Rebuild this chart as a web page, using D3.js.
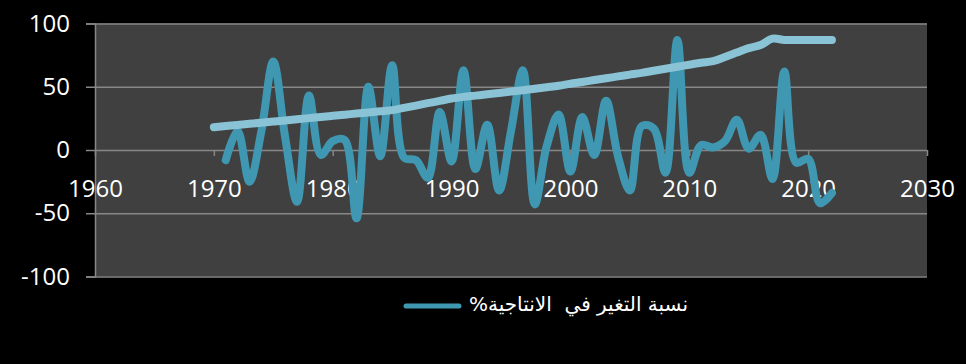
<!DOCTYPE html>
<html>
<head>
<meta charset="utf-8">
<script src="https://cdn.jsdelivr.net/npm/d3@7/dist/d3.min.js"></script>
<style>
  html, body { margin: 0; padding: 0; background: #000; }
  svg { display: block; }
  .tick text { font-family: "Segoe UI", "Open Sans", sans-serif; }
</style>
</head>
<body>
<svg id="chart" width="966" height="364"></svg>
<script>
// Annual percentage change in productivity
const years = [1971, 1972, 1973, 1974, 1975, 1976, 1977, 1978, 1979, 1980,
  1981, 1982, 1983, 1984, 1985, 1986, 1987, 1988, 1989, 1990,
  1991, 1992, 1993, 1994, 1995, 1996, 1997, 1998, 1999, 2000,
  2001, 2002, 2003, 2004, 2005, 2006, 2007, 2008, 2009, 2010,
  2011, 2012, 2013, 2014, 2015, 2016, 2017, 2018, 2019, 2020,
  2021, 2022];
const changePct = [-8, 15, -25, 15, 70, 10, -41, 43, -4, 7,
  8, -54, 50, -5, 67, -6, -8, -22, 30, -9,
  63, -15, 20, -32, 15, 63, -43, 3, 28, -17,
  26, -4, 39, -5, -32, 19, 17, -18, 87, -18,
  4, 2, 7, 24, 1, 12, -23, 62, -10, -7,
  -42, -34];

// Cumulative productivity index
const trendYears = [1970, 1971, 1972, 1973, 1974, 1975, 1976, 1977, 1978, 1979,
  1980, 1981, 1982, 1983, 1984, 1985, 1986, 1987, 1988, 1989,
  1990, 1991, 1992, 1993, 1994, 1995, 1996, 1997, 1998, 1999,
  2000, 2001, 2002, 2003, 2004, 2005, 2006, 2007, 2008, 2009,
  2010, 2011, 2012, 2013, 2014, 2015, 2016, 2017, 2018, 2019,
  2020, 2021, 2022];
const trendValues = [18, 18.9, 19.8, 20.7, 21.6, 22.5, 23.4, 24.3, 25.2, 26.1,
  27, 27.9, 28.8, 29.7, 30.6, 31.5, 33.3, 35.1, 37, 38.8,
  40.7, 42, 43, 44, 45.1, 46.2, 47.2, 48.4, 49.6, 50.8,
  52.4, 53.8, 55.3, 56.7, 58.2, 59.6, 61, 62.6, 64.2, 65.8,
  67.4, 69, 70.3, 73.5, 77, 80.5, 83, 88, 87, 87,
  87, 87, 87];

const xTicks = [1960, 1970, 1980, 1990, 2000, 2010, 2020, 2030];
const yTicks = [-100, -50, 0, 50, 100];
const legendLabel = "نسبة التغير في  الانتاجية%";

const svg = d3.select("#chart");
const plotLeft = 95, plotRight = 927, plotTop = 23.5, plotBottom = 276.5;

const x = d3.scaleLinear().domain([1960, 2030]).range([plotLeft, plotRight]);
const y = d3.scaleLinear().domain([-100, 100]).range([plotBottom, plotTop]);

const gridColor = "#878787";
const textColor = "#ffffff";
const lineColor = "#3f97b1";
const trendColor = "#8bc3d6";
const plainNumber = d => String(d);

// plot background
svg.append("rect")
  .attr("x", x(1960)).attr("y", y(100))
  .attr("width", x(2030) - x(1960)).attr("height", y(-100) - y(100))
  .attr("fill", "#404040");

// horizontal gridlines
const grid = svg.append("g")
  .attr("transform", `translate(${plotLeft},0)`)
  .call(d3.axisLeft(y).tickValues(yTicks).tickSize(-(plotRight - plotLeft)).tickFormat(""));
grid.select(".domain").remove();
grid.selectAll("line").attr("stroke", gridColor).attr("stroke-width", 1.5);

// y axis
const yAxis = svg.append("g")
  .attr("transform", `translate(${plotLeft},0)`)
  .call(d3.axisLeft(y).tickValues(yTicks).tickFormat(plainNumber).tickSize(9).tickPadding(16));
yAxis.select(".domain").attr("stroke", gridColor).attr("stroke-width", 1.5);
yAxis.selectAll("line").attr("stroke", gridColor).attr("stroke-width", 1.5);
yAxis.selectAll("text").attr("fill", textColor).style("font-size", "24px");

// x axis on the zero line
const xAxis = svg.append("g")
  .attr("transform", `translate(0,${y(0)})`)
  .call(d3.axisBottom(x).tickValues(xTicks).tickFormat(plainNumber).tickSize(6).tickPadding(24));
xAxis.select(".domain").remove();
xAxis.selectAll("line").attr("stroke", gridColor).attr("stroke-width", 1.5);
xAxis.selectAll("text").attr("fill", textColor).style("font-size", "24px");

const curve = d3.curveCatmullRom.alpha(0.5);

// annual change series
const changeLine = d3.line()
  .x((d, i) => x(years[i]))
  .y(d => y(d))
  .curve(curve);
svg.append("path")
  .attr("d", changeLine(changePct))
  .attr("fill", "none")
  .attr("stroke", lineColor)
  .attr("stroke-width", 8)
  .attr("stroke-linecap", "round")
  .attr("stroke-linejoin", "round");

// index series
const trendLine = d3.line()
  .x((d, i) => x(trendYears[i]))
  .y(d => y(d))
  .curve(curve);
svg.append("path")
  .attr("d", trendLine(trendValues))
  .attr("fill", "none")
  .attr("stroke", trendColor)
  .attr("stroke-width", 8)
  .attr("stroke-linecap", "round")
  .attr("stroke-linejoin", "round");

// legend
const legend = svg.append("g");
legend.append("line")
  .attr("x1", 406).attr("x2", 459)
  .attr("y1", 306).attr("y2", 306)
  .attr("stroke", lineColor)
  .attr("stroke-width", 5)
  .attr("stroke-linecap", "round");
legend.append("text")
  .attr("x", 578.5).attr("y", 304)
  .attr("dy", "0.35em")
  .attr("text-anchor", "middle")
  .attr("direction", "rtl")
  .attr("fill", textColor)
  .style("white-space", "pre")
  .style("font-family", "'DejaVu Sans', sans-serif")
  .style("font-size", "20px")
  .text(legendLabel);
</script>
</body>
</html>
